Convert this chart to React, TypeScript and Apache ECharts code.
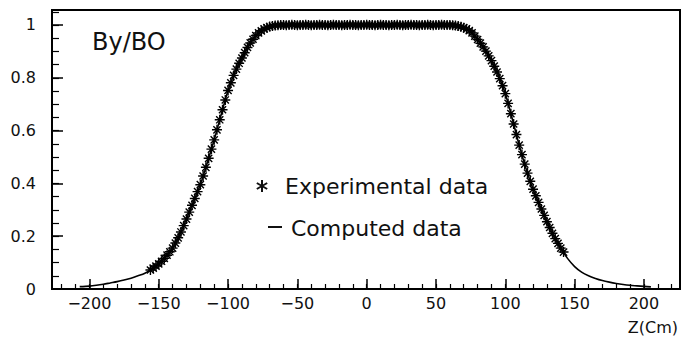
import React, { useEffect, useRef } from "react";
import * as echarts from "echarts";

// Computed data (solid line)
const lineX = [-207, -200, -195, -190, -185, -180, -175, -170, -165, -160,
  -155, -150, -145, -140, -135, -130, -125, -120, -115, -110,
  -105, -100, -95, -90, -85, -80, -75, -70, -65, -60,
  -40, -20, 0, 20, 40, 60,
  65, 70, 75, 80, 85, 90, 95, 100, 105, 110,
  115, 120, 125, 130, 135, 140, 145, 150, 155, 160,
  165, 170, 175, 180, 185, 190, 195, 200, 205];
const lineY = [0.009, 0.011, 0.014, 0.018, 0.023, 0.028, 0.034, 0.041, 0.050, 0.060,
  0.075, 0.095, 0.122, 0.155, 0.205, 0.265, 0.330, 0.395, 0.478, 0.565,
  0.660, 0.752, 0.822, 0.875, 0.925, 0.960, 0.982, 0.994, 0.999, 1.000,
  1.000, 1.000, 1.000, 1.000, 1.000, 1.000,
  0.997, 0.990, 0.975, 0.945, 0.910, 0.865, 0.810, 0.740, 0.645, 0.545,
  0.455, 0.378, 0.315, 0.255, 0.200, 0.155, 0.115, 0.085, 0.064, 0.050,
  0.040, 0.032, 0.026, 0.021, 0.017, 0.014, 0.012, 0.010, 0.008];

// Experimental data (asterisks), measured every 2 cm starting at -156 cm
const expStart = -156;
const expStep = 2;
const expY = [
  0.072, 0.079, 0.087, 0.095, 0.105, 0.116, 0.128, 0.141, 0.155, 0.174,
  0.194, 0.216, 0.240, 0.265, 0.291, 0.317, 0.343, 0.369, 0.395, 0.428,
  0.461, 0.495, 0.530, 0.565, 0.603, 0.641, 0.679, 0.716, 0.752, 0.781,
  0.809, 0.833, 0.855, 0.875, 0.895, 0.915, 0.932, 0.946, 0.960, 0.970,
  0.978, 0.985, 0.990, 0.994, 0.996, 0.998, 0.999, 1.000,
  1.000, 0.999, 1.000, 1.001, 1.000, 0.999, 1.000, 1.000, 1.001, 1.000,
  0.999, 1.000, 1.000, 1.001, 1.000, 1.000, 0.999, 1.000, 1.001, 1.000,
  1.000, 0.999, 1.000, 1.000, 1.001, 1.000, 1.000, 0.999, 1.000, 1.000,
  1.001,
  1.000, 1.000, 0.999, 1.000, 1.001, 1.000, 1.000, 0.999, 1.000, 1.000,
  1.001, 1.000, 0.999, 1.000, 1.000, 1.001, 1.000, 1.000, 0.999, 1.000,
  1.000, 1.001, 1.000, 0.999, 1.000, 1.000, 1.001, 1.000, 1.000, 1.000,
  0.999, 0.998, 0.996, 0.993, 0.990, 0.985, 0.979, 0.970, 0.958, 0.945,
  0.931, 0.917, 0.901, 0.883, 0.865, 0.844, 0.822, 0.797, 0.770, 0.740,
  0.703, 0.664, 0.625, 0.585, 0.545, 0.509, 0.473, 0.439, 0.408, 0.378,
  0.353, 0.328, 0.303, 0.279, 0.255, 0.233, 0.211, 0.191, 0.173, 0.155,
  0.140];

// Axis ticks
const xMajorTicks = [-200, -150, -100, -50, 0, 50, 100, 150, 200];
const xMinorTicks = [-220, -210, -200, -190, -180, -170, -160, -150, -140, -130, -120, -110, -100,
  -90, -80, -70, -60, -50, -40, -30, -20, -10, 0, 10, 20, 30, 40, 50, 60, 70, 80, 90, 100,
  110, 120, 130, 140, 150, 160, 170, 180, 190, 200, 210, 220];
const yMajorTicks = [0, 0.2, 0.4, 0.6, 0.8, 1];
const yMinorTicks = [0.05, 0.1, 0.15, 0.2, 0.25, 0.3, 0.35, 0.4, 0.45, 0.5, 0.55, 0.6, 0.65,
  0.7, 0.75, 0.8, 0.85, 0.9, 0.95, 1, 1.05];

const FONT = "DejaVu Sans";
const INK = "#111";

const ASTERISK = "path://M0,-5L0,5M-5,0L5,0M-3.6,-3.6L3.6,3.6M-3.6,3.6L3.6,-3.6";

export default function App() {
  const ref = useRef<HTMLDivElement>(null);
  useEffect(() => {
    document.body.style.margin = "0";
    if (!ref.current) return;
    const chart = echarts.init(ref.current, undefined, { renderer: "svg" });
    const X_MIN = -227;
    const X_MAX = 226;
    const Y_MIN = 0;
    const Y_MAX = 1.0568;
    const gridBox = { left: 52, right: 2, top: 10, bottom: 48 };
    const expData = expY.map((y, i) => [expStart + i * expStep, y]);
    const lineData = lineX.map((x, i) => [x, lineY[i]]);
    const fmtX = (v: number) => (v < 0 ? "\u2212" + String(-v) : String(v));

    chart.setOption({
      animation: false,
      backgroundColor: "#fff",
      grid: [
        { ...gridBox, show: true, borderColor: "#000", borderWidth: 2, backgroundColor: "transparent" },
        { ...gridBox, show: false },
      ],
      xAxis: [
        {
          type: "value", gridIndex: 0, position: "bottom", min: X_MIN, max: X_MAX,
          axisLine: { show: true, onZero: false, lineStyle: { color: "#000", width: 2 } },
          axisTick: { show: true, inside: true, length: 10, customValues: xMajorTicks, lineStyle: { color: "#000", width: 1.5 } },
          axisLabel: { show: true, customValues: xMajorTicks, formatter: fmtX, fontFamily: FONT, fontSize: 16, color: INK, margin: 6 },
          splitLine: { show: false },
        },
        {
          type: "value", gridIndex: 1, position: "bottom", min: X_MIN, max: X_MAX,
          axisLine: { show: false, onZero: false },
          axisTick: { show: true, inside: true, length: 5, customValues: xMinorTicks, lineStyle: { color: "#000", width: 1.2 } },
          axisLabel: { show: false },
          splitLine: { show: false },
        },
      ],
      yAxis: [
        {
          type: "value", gridIndex: 0, position: "left", min: Y_MIN, max: Y_MAX,
          axisLine: { show: true, onZero: false, lineStyle: { color: "#000", width: 2 } },
          axisTick: { show: true, inside: true, length: 11, customValues: yMajorTicks, lineStyle: { color: "#000", width: 1.5 } },
          axisLabel: { show: true, customValues: yMajorTicks, formatter: (v: number) => String(v), fontFamily: FONT, fontSize: 16, color: INK, margin: 16 },
          splitLine: { show: false },
        },
        {
          type: "value", gridIndex: 1, position: "left", min: Y_MIN, max: Y_MAX,
          axisLine: { show: false, onZero: false },
          axisTick: { show: true, inside: true, length: 7, customValues: yMinorTicks, lineStyle: { color: "#000", width: 1.2 } },
          axisLabel: { show: false },
          splitLine: { show: false },
        },
      ],
      series: [
        {
          name: "Computed data", type: "line", xAxisIndex: 0, yAxisIndex: 0,
          data: lineData, showSymbol: false, smooth: 0.3,
          lineStyle: { color: "#000", width: 1.6 },
        },
        {
          name: "Experimental data", type: "scatter", xAxisIndex: 0, yAxisIndex: 0,
          data: expData, symbol: ASTERISK, symbolSize: 10,
          itemStyle: { color: "transparent", borderColor: "#000", borderWidth: 1.4, opacity: 1 },
        },
      ],
      graphic: [
        { type: "text", left: 92, top: 30, style: { text: "By/BO", font: `24px "${FONT}"`, fill: INK } },
        { type: "line", shape: { x1: 262, y1: 180, x2: 262, y2: 192 }, style: { stroke: INK, lineWidth: 2 } },
        { type: "line", shape: { x1: 256.8, y1: 183, x2: 267.2, y2: 189 }, style: { stroke: INK, lineWidth: 2 } },
        { type: "line", shape: { x1: 256.8, y1: 189, x2: 267.2, y2: 183 }, style: { stroke: INK, lineWidth: 2 } },
        { type: "text", x: 285, y: 186, style: { text: "Experimental data", font: `22px "${FONT}"`, fill: INK, textVerticalAlign: "middle", verticalAlign: "middle" } },
        { type: "line", shape: { x1: 268, y1: 227, x2: 282, y2: 227 }, style: { stroke: INK, lineWidth: 2 } },
        { type: "text", x: 291, y: 228, style: { text: "Computed data", font: `22px "${FONT}"`, fill: INK, textVerticalAlign: "middle", verticalAlign: "middle" } },
        { type: "text", x: 678, y: 327, style: { text: "Z(Cm)", font: `16px "${FONT}"`, fill: INK, align: "right", textAlign: "right", verticalAlign: "middle", textVerticalAlign: "middle" } },
      ],
    });
    return () => chart.dispose();
  }, []);
  return <div ref={ref} style={{ width: 682, height: 337 }} />;
}
